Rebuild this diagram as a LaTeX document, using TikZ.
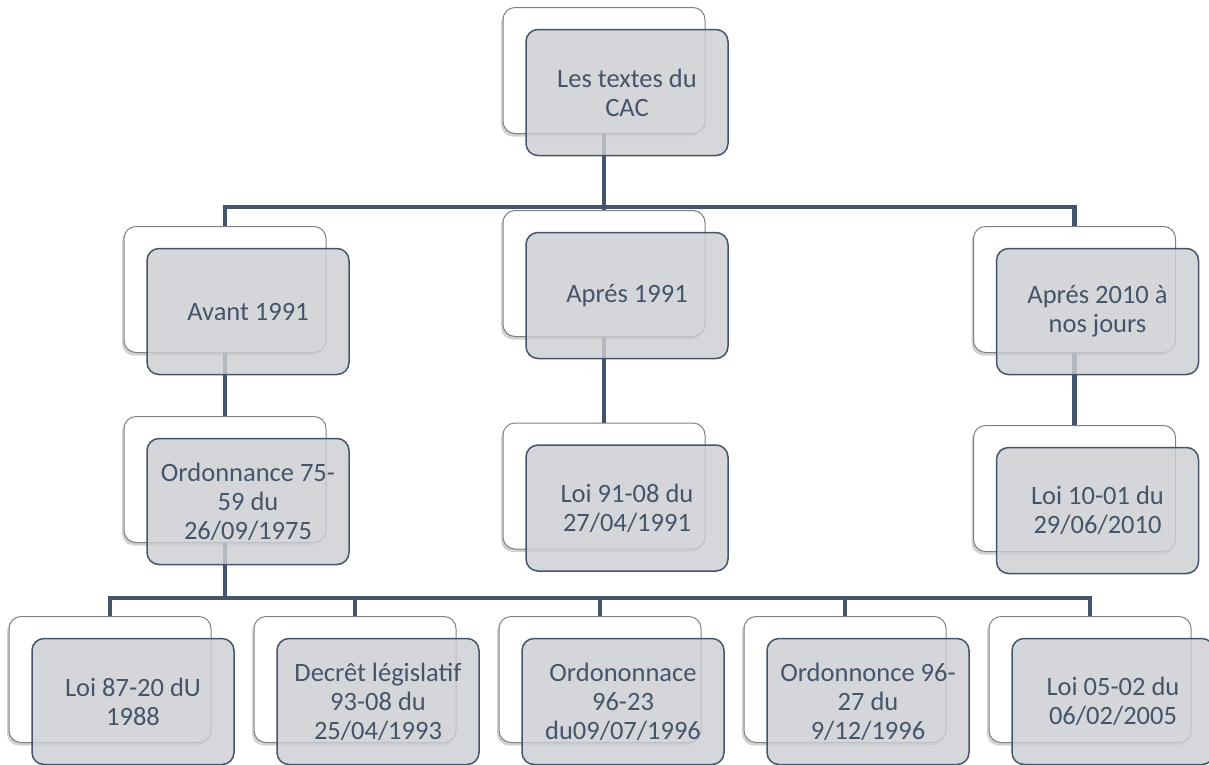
\documentclass[tikz,border=0pt]{standalone}
\usepackage{fontspec}
\setmainfont{Carlito}
\usetikzlibrary{shadows}
\definecolor{slate}{RGB}{68,84,106}
\definecolor{frontgray}{RGB}{204,206,211}
\definecolor{backline}{RGB}{128,128,128}
\begin{document}
\begin{tikzpicture}[x=1pt,y=-1pt,
  backbox/.style={draw=backline, line width=1pt, fill=white, rounded corners=12pt,
    minimum width=202pt, minimum height=126pt, inner sep=0pt,
    drop shadow={shadow xshift=-2pt, shadow yshift=-3pt, opacity=0.3, fill=black!60}},
  frontbox/.style={draw=slate, line width=1.5pt, fill=frontgray, fill opacity=0.82,
    draw opacity=1, text opacity=1, rounded corners=12pt, text=slate,
    minimum width=202pt, minimum height=126pt, inner sep=2pt, align=center,
    font=\fontsize{26.5}{29}\selectfont},
  conn/.style={draw=slate, line width=4.8pt}]
\useasboundingbox (0,0) rectangle (1209,764);
% back boxes
\node[backbox] (b0) at (604,70.5) {};
\node[backbox] (bav) at (225,289.5) {};
\node[backbox] (bap1) at (604,273.5) {};
\node[backbox] (bap2) at (1074.5,289.5) {};
\node[backbox] (bord) at (225,479.5) {};
\node[backbox] (bl91) at (604,486) {};
\node[backbox] (bl10) at (1074.5,488.5) {};
\node[backbox] (bb1) at (110,679.5) {};
\node[backbox] (bb2) at (355,679.5) {};
\node[backbox] (bb3) at (600,679.5) {};
\node[backbox] (bb4) at (845,679.5) {};
\node[backbox] (bb5) at (1090,679.5) {};
% connectors
\coordinate (j0) at (604,207);
\coordinate (j1) at (225,598);
\draw[conn] (b0.south) -- (j0);
\draw[conn] (bav.north) |- (j0) -| (bap2.north);
\draw[conn] (j0) -- (bap1.north);
\draw[conn] (bav.south) -- (bord.north);
\draw[conn] (bap1.south) -- (bl91.north);
\draw[conn] (bap2.south) -- (bl10.north);
\draw[conn] (bord.south) -- (j1);
\draw[conn] (bb1.north) |- (j1) -| (bb5.north);
\draw[conn] (bb2.north) -- (bb2.north |- j1);
\draw[conn] (bb3.north) -- (bb3.north |- j1);
\draw[conn] (bb4.north) -- (bb4.north |- j1);
% front boxes
\node[frontbox] (f0) at (627,92.5) {Les textes du\\CAC};
\node[frontbox] (fav) at (248,311.5) {Avant 1991};
\node[frontbox] (fap1) at (627,295.5) {Aprés 1991};
\node[frontbox] (fap2) at (1097.5,311.5) {Aprés 2010 à\\nos jours};
\node[frontbox] (ford) at (248,501.5) {Ordonnance 75-\\59 du\\26/09/1975};
\node[frontbox] (fl91) at (627,508) {Loi 91-08 du\\27/04/1991};
\node[frontbox] (fl10) at (1097.5,510.5) {Loi 10-01 du\\29/06/2010};
\node[frontbox] (fb1) at (133,701.5) {Loi 87-20 dU\\1988};
\node[frontbox] (fb2) at (378,701.5) {Decrêt législatif\\93-08 du\\25/04/1993};
\node[frontbox] (fb3) at (623,701.5) {Ordononnace\\96-23\\du09/07/1996};
\node[frontbox] (fb4) at (868,701.5) {Ordonnonce 96-\\27 du\\9/12/1996};
\node[frontbox] (fb5) at (1113,701.5) {Loi 05-02 du\\06/02/2005};
\end{tikzpicture}
\end{document}
